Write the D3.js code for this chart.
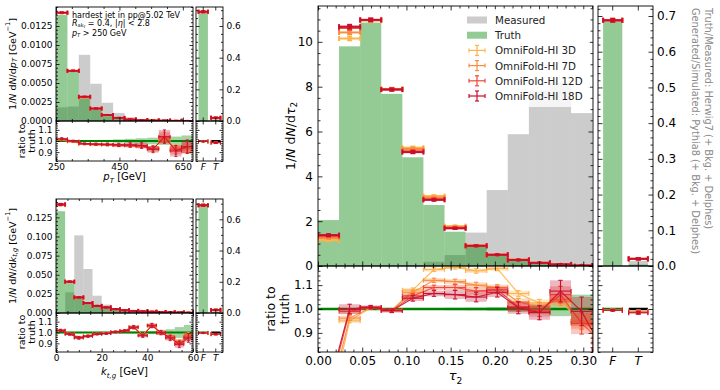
<!DOCTYPE html>
<html><head><meta charset="utf-8">
<script src="https://cdn.jsdelivr.net/npm/d3@7/dist/d3.min.js"></script>
<style>html,body{margin:0;padding:0;background:#fff;}svg{display:block;}</style>
</head><body>
<script>
// ---------------- DATA ----------------
const seriesNames = ["OmniFold-HI 3D","OmniFold-HI 7D","OmniFold-HI 12D","OmniFold-HI 18D"];
const patchNames = ["Measured","Truth"];
const ftCategories = ["F","T"];
const ratioTicks = [0.9,1.0,1.1];
const ratioTickLabels = ["0.9","1.0","1.1"];
const sideNotes = ["Truth/Measured: Herwig7 (+ Bkg. + Delphes)","Generated/Simulated: Pythia8 (+ Bkg. + Delphes)"];

// tau_2 (main panel)
const tauEdges = [0,0.0238,0.0477,0.0715,0.0954,0.1192,0.1431,0.1669,0.1908,0.2146,0.2385,0.2623,0.2862,0.31,0.3338];
const tauTicks = [0,0.05,0.1,0.15,0.2,0.25,0.3];
const tauTickLabels = ["0.00","0.05","0.10","0.15","0.20","0.25","0.30"];
const tauYTicks = [0,2,4,6,8,10];
const tauYTickLabels = ["0","2","4","6","8","10"];
const tauMeasured = [0,0,0,0,0.02,0.19,0.49,1.49,3.39,5.88,7.83,8.18,6.82];
const tauTruth = [2.05,9.8,10.86,7.68,4.85,2.72,1.53,0.86,0.49,0.27,0.13,0.07,0.02];
const tauOmni3D = [1.15,10.15,10.95,7.90,5.28,3.12,1.78,0.92,0.51,0.28,0.14,0.07,0.02];
const tauOmni7D = [1.25,10.42,10.97,7.89,5.22,3.05,1.74,0.91,0.50,0.28,0.14,0.07,0.02];
const tauOmni12D = [1.33,10.62,10.98,7.88,5.12,2.98,1.70,0.90,0.50,0.27,0.14,0.07,0.02];
const tauOmni18D = [1.38,10.68,10.98,7.87,5.08,2.95,1.68,0.90,0.50,0.27,0.14,0.07,0.02];
const tauOmniErr = [0.04,0.08,0.06,0.05,0.05,0.04,0.03,0.02,0.015,0.01,0.008,0.005,0.003];
const tauRatio3D = [0.56,0.95,1.005,0.995,1.08,1.165,1.175,1.16,1.17,1.065,1.025,1.03,0.95,0.90];
const tauRatio7D = [0.61,0.962,1.005,0.995,1.07,1.12,1.115,1.10,1.09,1.03,1.01,1.04,0.95,0.88];
const tauRatio12D = [0.65,0.99,1.006,0.994,1.055,1.09,1.09,1.075,1.08,1.01,0.99,1.06,0.94,0.86];
const tauRatio18D = [0.67,1.0,1.008,0.993,1.045,1.065,1.06,1.05,1.07,1.005,0.985,1.075,0.99,0.83];
const tauRatioErr3D = [0.02,0.008,0.004,0.005,0.008,0.008,0.008,0.01,0.01,0.012,0.015,0.02,0.03,0.04];
const tauRatioErr7D = [0.025,0.01,0.005,0.006,0.009,0.009,0.01,0.012,0.012,0.015,0.018,0.025,0.035,0.05];
const tauRatioErr12D = [0.03,0.012,0.006,0.007,0.01,0.01,0.012,0.015,0.015,0.02,0.022,0.035,0.045,0.06];
const tauRatioErr18D = [0.04,0.02,0.007,0.008,0.012,0.012,0.018,0.02,0.02,0.025,0.03,0.045,0.06,0.08];
const tauTruthErr = [0.004,0.002,0.002,0.002,0.003,0.004,0.005,0.006,0.008,0.012,0.02,0.03,0.06,0.08];

// F/T bins, main panel
const ftMainTicks = [0,0.1,0.2,0.3,0.4,0.5,0.6,0.7];
const ftMainTickLabels = ["0.0","0.1","0.2","0.3","0.4","0.5","0.6","0.7"];
const ftMainTruth = [0.69,0.004];
const ftMainMeasured = [0,0.014];
const ftMainOmni = [0.688,0.02];
const ftMainRatio3D = [0.997,0.99];
const ftMainRatio7D = [0.996,0.988];
const ftMainRatio12D = [0.995,0.986];
const ftMainRatio18D = [0.995,0.984];
const ftRatioErr = [0.003,0.006];

// p_T (top left)
const ptEdges = [250,286,322,358,394,430,466,502,538,574,610,646,682];
const ptTicks = [250,450,650];
const ptTickLabels = ["250","450","650"];
const ptYTicks = [0,0.0025,0.005,0.0075,0.01,0.0125];
const ptYTickLabels = ["0.0000","0.0025","0.0050","0.0075","0.0100","0.0125"];
const ptMeasured = [0.0018,0.0019,0.0087,0.0049,0.0024,0.00106,0.0005,0.00022,0.0001,0.00006,0.00003,0.00002];
const ptTruth = [0.01395,0.0066,0.00317,0.00164,0.00078,0.0004,0.0002,0.0001,0.00006,0.00004,0.00002,0.00001];
const ptOmni3D = [0.0142,0.0066,0.0031,0.0016,0.00076,0.00039,0.00019,0.0001,0.00006,0.00004,0.00002,0.00001];
const ptOmni7D = [0.01422,0.0066,0.00312,0.00161,0.00077,0.0004,0.00019,0.0001,0.00006,0.00004,0.00002,0.00001];
const ptOmni12D = [0.01424,0.0066,0.00315,0.00163,0.00078,0.00041,0.0002,0.0001,0.00006,0.00004,0.00002,0.00001];
const ptOmni18D = [0.01426,0.0066,0.0032,0.00165,0.0008,0.00042,0.0002,0.0001,0.00006,0.00004,0.00002,0.00001];
const ptOmniErr = [0.00005,0.00004,0.00003,0.00002,0.00001,0.00001,0.00001,0.00001,0.00001,0.00001,0.00001,0.00001];
const ptRatio3D = [1.01,0.99,0.97,0.965,0.962,0.958,0.955,0.95,0.94,1.01,0.94,0.92];
const ptRatio7D = [1.01,0.995,0.972,0.968,0.965,0.96,0.958,0.952,0.935,1.02,0.93,0.93];
const ptRatio12D = [1.015,0.995,0.975,0.97,0.968,0.962,0.96,0.955,0.93,1.03,0.92,0.94];
const ptRatio18D = [1.02,1.0,0.975,0.972,0.97,0.965,0.965,0.96,0.925,1.04,0.91,0.95];
const ptRatioErr3D = [0.005,0.004,0.004,0.005,0.006,0.008,0.01,0.012,0.015,0.03,0.025,0.03];
const ptRatioErr7D = [0.006,0.005,0.005,0.006,0.007,0.01,0.012,0.015,0.02,0.04,0.03,0.04];
const ptRatioErr12D = [0.008,0.006,0.006,0.008,0.01,0.012,0.016,0.02,0.025,0.05,0.04,0.05];
const ptRatioErr18D = [0.01,0.008,0.008,0.01,0.012,0.015,0.02,0.025,0.03,0.06,0.05,0.06];
const ptTruthErr = [0.004,0.005,0.006,0.008,0.01,0.015,0.02,0.025,0.03,0.035,0.04,0.05];
const ftPtTicks = [0,0.2,0.4,0.6];
const ftPtTickLabels = ["0.0","0.2","0.4","0.6"];
const ftPtTruth = [0.69,0.004];
const ftPtMeasured = [0,0.012];
const ftPtOmni = [0.69,0.02];
const ftPtRatio = [0.996,0.985];

// k_t,g (bottom left)
const ktEdges = [0,4,8,12,16,20,24,28,32,36,40,44,48,52,56,60];
const ktTicks = [0,20,40,60];
const ktTickLabels = ["0","20","40","60"];
const ktYTicks = [0,0.025,0.05,0.075,0.1,0.125];
const ktYTickLabels = ["0.000","0.025","0.050","0.075","0.100","0.125"];
const ktMeasured = [0,0.027,0.1015,0.0575,0.0226,0.011,0.006,0.004,0.004,0.002,0.0015,0.001,0.0006,0.0004,0.0002];
const ktTruth = [0.133,0.04,0.02,0.013,0.009,0.007,0.005,0.0035,0.0025,0.002,0.0015,0.001,0.0008,0.0005,0.0003];
const ktOmni3D = [0.141,0.0405,0.0202,0.0129,0.0092,0.0072,0.005,0.0036,0.0027,0.002,0.0016,0.001,0.0008,0.0005,0.0003];
const ktOmni7D = [0.1415,0.0407,0.0203,0.0129,0.0092,0.0072,0.005,0.0036,0.0027,0.002,0.0016,0.001,0.0008,0.0005,0.0003];
const ktOmni12D = [0.1418,0.0408,0.0204,0.013,0.0093,0.0073,0.005,0.0036,0.0027,0.002,0.0016,0.001,0.0008,0.0005,0.0003];
const ktOmni18D = [0.142,0.041,0.0204,0.013,0.0093,0.0073,0.005,0.0036,0.0027,0.002,0.0016,0.001,0.0008,0.0005,0.0003];
const ktOmniErr = [0.0008,0.0004,0.0003,0.0002,0.0002,0.0001,0.0001,0.0001,0.0001,0.0001,0.0001,0.0001,0.0001,0.0001,0.0001];
const ktRatio3D = [1.02,0.99,0.96,0.972,0.99,0.995,1.01,1.02,1.055,0.98,1.07,1.005,0.965,0.92,0.98];
const ktRatio7D = [1.02,0.987,0.955,0.97,0.987,0.993,1.008,1.018,1.05,0.978,1.065,1.0,0.96,0.91,0.97];
const ktRatio12D = [1.02,0.985,0.952,0.967,0.985,0.992,1.005,1.015,1.045,0.975,1.06,0.995,0.955,0.9,0.96];
const ktRatio18D = [1.02,0.985,0.95,0.965,0.985,0.99,1.005,1.015,1.05,0.97,1.065,1.0,0.95,0.89,0.95];
const ktRatioErr3D = [0.005,0.005,0.006,0.005,0.004,0.004,0.004,0.005,0.008,0.008,0.01,0.01,0.012,0.015,0.02];
const ktRatioErr7D = [0.006,0.006,0.008,0.006,0.005,0.005,0.005,0.006,0.01,0.01,0.013,0.013,0.016,0.02,0.026];
const ktRatioErr12D = [0.008,0.008,0.01,0.008,0.006,0.006,0.006,0.008,0.012,0.012,0.016,0.016,0.02,0.025,0.033];
const ktRatioErr18D = [0.01,0.01,0.012,0.01,0.008,0.008,0.008,0.01,0.015,0.015,0.02,0.02,0.025,0.03,0.04];
const ktTruthErr = [0.005,0.006,0.006,0.005,0.005,0.005,0.006,0.008,0.01,0.012,0.015,0.02,0.03,0.05,0.07];
const ftKtTruth = [0.69,0.004];
const ftKtMeasured = [0,0.012];
const ftKtOmni = [0.69,0.02];
const ftKtRatio = [0.996,0.985];

// ---------------- STYLE / HELPERS ----------------
const FONT = '"DejaVu Sans", sans-serif';
const seriesColors = ["#fdb44b","#f98c3f","#ee4836","#c8102e"];
const GRAY = "#999999", GREEN = "#008000";
const ratioDomain = [0.82, 1.18];

const svg = d3.select("body").append("svg").attr("width",720).attr("height",390)
  .style("font-family",FONT);
const defs = svg.append("defs");
let cid = 0;
function clipped(x,y,w,h){
  const id = "clip"+(cid++);
  defs.append("clipPath").attr("id",id).append("rect").attr("x",x).attr("y",y).attr("width",w).attr("height",h);
  return svg.append("g").attr("clip-path",`url(#${id})`);
}
function minorTicks(lo,hi,step,maj){
  return d3.range(lo,hi+step*0.01,step).filter(m=>!maj.some(t=>Math.abs(t-m)<step*0.01));
}
function rich(sel, parts, fs){
  let cur=0;
  parts.forEach(p=>{
    const sh=(p.sh||0)*fs;
    const ts=sel.append("tspan").text(p.t);
    if(Math.abs(sh-cur)>1e-9) ts.attr("dy",sh-cur);
    cur=sh;
    if(p.i) ts.attr("font-style","italic");
    if(p.sc) ts.attr("font-size",fs*p.sc);
  });
}
function axes(P){
  const g=svg.append("g");
  const none=()=>"";
  const fmtFrom=(labels,ticks)=>d=>{const i=ticks.indexOf(d);return i>=0?labels[i]:"";};
  function put(axis,tx,ty,italic){
    const a=g.append("g").attr("transform",`translate(${tx},${ty})`).call(axis);
    a.select(".domain").remove();
    a.attr("font-family",FONT).attr("font-size",P.fs);
    a.selectAll(".tick line").attr("stroke","#000").attr("stroke-width",0.8);
    a.selectAll(".tick text").attr("fill","#000");
    if(italic) a.selectAll(".tick text").attr("font-style","italic");
  }
  const xfmt=P.xLabels?fmtFrom(P.xLabels,P.xLabelTicks||P.xMaj):none;
  put(d3.axisBottom(P.xs).tickValues(P.xMaj).tickSize(-P.tl).tickPadding(P.xPad||3).tickFormat(xfmt),0,P.y1,P.xItalic);
  put(d3.axisTop(P.xs).tickValues(P.xMaj).tickSize(-P.tl).tickFormat(none),0,P.y0);
  if(P.xMin){
    put(d3.axisBottom(P.xs).tickValues(P.xMin).tickSize(-P.tm).tickFormat(none),0,P.y1);
    put(d3.axisTop(P.xs).tickValues(P.xMin).tickSize(-P.tm).tickFormat(none),0,P.y0);
  }
  const yfmt=P.yLabels?fmtFrom(P.yLabels,P.yMaj):none;
  put(d3.axisLeft(P.ys).tickValues(P.yMaj).tickSize(-P.tl).tickPadding(P.yPad||3).tickFormat(P.ySide==="left"?yfmt:none),P.x0,0);
  put(d3.axisRight(P.ys).tickValues(P.yMaj).tickSize(-P.tl).tickPadding(P.yPad||3).tickFormat(P.ySide==="right"?yfmt:none),P.x1,0);
  if(P.yMin){
    put(d3.axisLeft(P.ys).tickValues(P.yMin).tickSize(-P.tm).tickFormat(none),P.x0,0);
    put(d3.axisRight(P.ys).tickValues(P.yMin).tickSize(-P.tm).tickFormat(none),P.x1,0);
  }
  g.append("rect").attr("x",P.x0).attr("y",P.y0).attr("width",P.x1-P.x0).attr("height",P.y1-P.y0)
    .attr("fill","none").attr("stroke","#000").attr("stroke-width",0.9);
}
function errbars(g, pts, xs, ys, color, o){
  const gg=g.append("g").attr("stroke",color).attr("stroke-width",o.lw).attr("fill","none");
  gg.selectAll("line.h").data(pts).join("line").attr("class","h")
    .attr("x1",d=>xs(d.a)).attr("x2",d=>xs(d.b)).attr("y1",d=>ys(d.v)).attr("y2",d=>ys(d.v));
  gg.selectAll("line.v").data(pts).join("line").attr("class","v")
    .attr("x1",d=>xs(d.c)).attr("x2",d=>xs(d.c)).attr("y1",d=>ys(d.v-d.e)).attr("y2",d=>ys(d.v+d.e));
  ["a","b"].forEach(k=>{
    gg.selectAll("line.c"+k).data(pts).join("line").attr("class","c"+k)
      .attr("x1",d=>xs(d[k])).attr("x2",d=>xs(d[k])).attr("y1",d=>ys(d.v)-o.cap).attr("y2",d=>ys(d.v)+o.cap);
  });
  [1,-1].forEach((s,j)=>{
    gg.selectAll("line.y"+j).data(pts).join("line").attr("class","y"+j)
      .attr("x1",d=>xs(d.c)-o.cap).attr("x2",d=>xs(d.c)+o.cap).attr("y1",d=>ys(d.v+s*d.e)).attr("y2",d=>ys(d.v+s*d.e));
  });
  if(o.r) g.append("g").selectAll("circle").data(pts).join("circle")
    .attr("cx",d=>xs(d.c)).attr("cy",d=>ys(d.v)).attr("r",o.r).attr("fill",color);
}
function binsOf(edges, vals, errs){
  return vals.map((v,i)=>({a:edges[i],b:edges[i+1],c:(edges[i]+edges[i+1])/2,v,e:errs?errs[i]:0}));
}
function histPanel(P){
  const xs=d3.scaleLinear().domain(P.xDomain).range([P.x0,P.x1]);
  const ys=d3.scaleLinear().domain(P.yDomain).range([P.y1,P.y0]);
  const g=clipped(P.x0,P.y0,P.x1-P.x0,P.y1-P.y0);
  const bar=(vals,color,op)=>g.append("g").selectAll("rect").data(binsOf(P.edges,vals)).join("rect")
    .attr("x",d=>xs(d.a)).attr("width",d=>xs(d.b)-xs(d.a)).attr("y",d=>ys(d.v)).attr("height",d=>ys(0)-ys(d.v))
    .attr("fill",color).attr("fill-opacity",op);
  bar(P.measured,GRAY,0.5);
  bar(P.truth,GREEN,0.42);
  P.omni.forEach((vals,s)=>errbars(g,binsOf(P.edges,vals,P.omniErr),xs,ys,seriesColors[s],{lw:P.lw,cap:P.cap,r:P.r}));
  axes(Object.assign({xs,ys,x0:P.x0,x1:P.x1,y0:P.y0,y1:P.y1},P.ax));
  return {xs,ys,g};
}
function ratioPanel(P){
  const xs=d3.scaleLinear().domain(P.xDomain).range([P.x0,P.x1]);
  const ys=d3.scaleLinear().domain(ratioDomain).range([P.y1,P.y0]);
  const g=clipped(P.x0,P.y0,P.x1-P.x0,P.y1-P.y0);
  const boxes=(pts,color,op)=>g.append("g").selectAll("rect").data(pts).join("rect")
    .attr("x",d=>xs(d.a)).attr("width",d=>xs(d.b)-xs(d.a)).attr("y",d=>ys(d.v+d.e)).attr("height",d=>ys(d.v-d.e)-ys(d.v+d.e))
    .attr("fill",color).attr("fill-opacity",op);
  boxes(binsOf(P.edges,P.truthErr.map(()=>1),P.truthErr),GREEN,0.35);
  g.append("line").attr("x1",P.x0).attr("x2",P.x1).attr("y1",ys(1)).attr("y2",ys(1))
    .attr("stroke",GREEN).attr("stroke-width",P.glw);
  P.ratios.forEach((vals,s)=>{
    const pts=binsOf(P.edges,vals,P.errs[s]);
    boxes(pts,seriesColors[s],0.3);
    g.append("path").datum(pts).attr("d",d3.line().x(d=>xs(d.c)).y(d=>ys(d.v)))
      .attr("fill","none").attr("stroke",seriesColors[s]).attr("stroke-width",P.llw).attr("stroke-opacity",0.9);
    errbars(g,pts,xs,ys,seriesColors[s],{lw:P.elw,cap:P.cap,r:0});
  });
  axes(Object.assign({xs,ys,x0:P.x0,x1:P.x1,y0:P.y0,y1:P.y1},P.ax));
}
function ftPanel(P){
  const xb=d3.scaleBand().domain(ftCategories).range([P.x0,P.x1]).paddingInner(0.25).paddingOuter(0.2);
  const ys=d3.scaleLinear().domain(P.yDomain).range([P.yU1,P.yU0]);
  const yr=d3.scaleLinear().domain(ratioDomain).range([P.yR1,P.yU1]);
  const bw=xb.bandwidth();
  const pts=(vals,errs)=>ftCategories.map((k,i)=>({a:xb(k),b:xb(k)+bw,c:xb(k)+bw/2,v:vals[i],e:errs?errs[i]:0}));
  const id=v=>v;
  const g=clipped(P.x0,P.yU0,P.x1-P.x0,P.yU1-P.yU0);
  const bar=(vals,color,op)=>g.append("g").selectAll("rect").data(pts(vals)).join("rect")
    .attr("x",d=>d.a).attr("width",bw).attr("y",d=>ys(d.v)).attr("height",d=>ys(0)-ys(d.v))
    .attr("fill",color).attr("fill-opacity",op);
  bar(P.measured,GRAY,0.5);
  bar(P.truth,GREEN,0.42);
  P.omni.forEach((vals,s)=>errbars(g,pts(vals,[0.004,0.002]),id,ys,seriesColors[s],{lw:P.lw,cap:P.cap,r:0}));
  axes(Object.assign({xs:xb,ys,x0:P.x0,x1:P.x1,y0:P.yU0,y1:P.yU1,xMaj:ftCategories},P.axU));
  const gr=clipped(P.x0,P.yU1,P.x1-P.x0,P.yR1-P.yU1);
  const truthLine=pts([1,1]);
  const lineColors=[GREEN,"#000"];
  gr.selectAll("line.t").data(truthLine).join("line").attr("class","t")
    .attr("x1",d=>d.a).attr("x2",d=>d.b).attr("y1",d=>yr(d.v)).attr("y2",d=>yr(d.v))
    .attr("stroke",(d,i)=>lineColors[i]).attr("stroke-width",P.glw);
  P.ratios.forEach((vals,s)=>errbars(gr,pts(vals,ftRatioErr),id,yr,seriesColors[s],{lw:P.elw,cap:P.cap,r:s===3?P.r:0}));
  axes(Object.assign({xs:xb,ys:yr,x0:P.x0,x1:P.x1,y0:P.yU1,y1:P.yR1,xMaj:ftCategories,xLabels:ftCategories,xItalic:true,
    yMaj:ratioTicks,yMin:minorTicks(0.82,1.18,0.02,ratioTicks)},P.axR));
}
function vtext(x,y,parts,fs,rot){
  const t=svg.append("text").attr("transform",`translate(${x},${y}) rotate(${rot})`)
    .attr("text-anchor",rot===90?"start":"middle").attr("dominant-baseline","central")
    .attr("font-size",fs).attr("fill","#000");
  rich(t,parts,fs);
  return t;
}
function htext(x,y,parts,fs,anchor){
  const t=svg.append("text").attr("x",x).attr("y",y).attr("font-size",fs).attr("text-anchor",anchor||"middle").attr("fill","#000");
  rich(t,parts,fs);
  return t;
}

// ---------------- MAIN (tau_2) ----------------
const M={x0:318,x1:593,yU0:6,yU1:266,yR1:352};
const tauOmni=[tauOmni3D,tauOmni7D,tauOmni12D,tauOmni18D];
const tauRatios=[tauRatio3D,tauRatio7D,tauRatio12D,tauRatio18D];
const tauRatioErrs=[tauRatioErr3D,tauRatioErr7D,tauRatioErr12D,tauRatioErr18D];
histPanel({x0:M.x0,x1:M.x1,y0:M.yU0,y1:M.yU1,xDomain:[0,0.311],yDomain:[0,11.6],edges:tauEdges,
  measured:tauMeasured,truth:tauTruth,omni:tauOmni,omniErr:tauOmniErr,lw:2,cap:2.5,r:1.7,
  ax:{xMaj:tauTicks,xMin:minorTicks(0,0.31,0.01,tauTicks),yMaj:tauYTicks,yMin:minorTicks(0,11.5,0.5,tauYTicks),
      yLabels:tauYTickLabels,ySide:"left",fs:12,tl:4.5,tm:2.5,yPad:5}});
ratioPanel({x0:M.x0,x1:M.x1,y0:M.yU1,y1:M.yR1,xDomain:[0,0.311],edges:tauEdges,truthErr:tauTruthErr,
  ratios:tauRatios,errs:tauRatioErrs,glw:2.5,llw:1.2,elw:1.1,cap:2.2,
  ax:{xMaj:tauTicks,xMin:minorTicks(0,0.31,0.01,tauTicks),xLabels:tauTickLabels,xPad:4,
      yMaj:ratioTicks,yMin:minorTicks(0.82,1.18,0.02,ratioTicks),yLabels:ratioTickLabels,ySide:"left",fs:12,tl:4.5,tm:2.5,yPad:5}});

// legend (semi-transparent background + entries)
const legG=svg.append("g");
legG.append("rect").attr("x",459).attr("y",9).attr("width",131).attr("height",98).attr("rx",3)
  .attr("fill","#fff").attr("fill-opacity",0.8);
const legY=d3.scalePoint().domain(patchNames.concat(seriesNames)).range([20,96]);
[[GRAY,0.5],[GREEN,0.42]].forEach((c,i)=>{
  legG.append("rect").attr("x",467).attr("y",legY(patchNames[i])-3.5).attr("width",20).attr("height",7)
    .attr("fill",c[0]).attr("fill-opacity",c[1]);
});
seriesNames.forEach((n,s)=>{
  const y0=legY(n);
  errbars(legG,[{a:469,b:485,c:477,v:y0,e:5}],v=>v,v=>v,seriesColors[s],{lw:1.2,cap:2,r:0});
});
patchNames.concat(seriesNames).forEach(n=>{
  legG.append("text").attr("x",495).attr("y",legY(n)).attr("dominant-baseline","central")
    .attr("font-size",10.3).attr("fill","#222").text(n);
});

// main F/T
ftPanel({x0:598,x1:653,yU0:M.yU0,yU1:M.yU1,yR1:M.yR1,yDomain:[0,0.728],truth:ftMainTruth,measured:ftMainMeasured,
  omni:[ftMainOmni,ftMainOmni,ftMainOmni,ftMainOmni],ratios:[ftMainRatio3D,ftMainRatio7D,ftMainRatio12D,ftMainRatio18D],
  lw:2,cap:2.5,glw:2.5,elw:1.1,r:1.8,
  axU:{yMaj:ftMainTicks,yMin:minorTicks(0,0.72,0.02,ftMainTicks),yLabels:ftMainTickLabels,ySide:"right",fs:12,tl:4.5,tm:2.5,yPad:4},
  axR:{fs:12,tl:4.5,tm:2.5,xPad:4}});

// main labels
vtext(290,136,[{t:"1/"},{t:"N",i:1},{t:" d"},{t:"N",i:1},{t:"/d"},{t:"τ",i:1},{t:"2",sh:0.3,sc:0.7}],12.5,-90);
vtext(270,309,[{t:"ratio to"}],12.5,-90);
vtext(284,309,[{t:"truth"}],12.5,-90);
htext(455.5,380,[{t:"τ",i:1},{t:"2",sh:0.3,sc:0.7}],13);

// side notes
svg.append("text").attr("transform","translate(708,8) rotate(90)").attr("dominant-baseline","central")
  .attr("font-size",9.8).attr("fill","#8a8a8a").text(sideNotes[0]);
svg.append("text").attr("transform","translate(695,8) rotate(90)").attr("dominant-baseline","central")
  .attr("font-size",9.8).attr("fill","#8a8a8a").text(sideNotes[1]);

// ---------------- TOP LEFT (p_T) ----------------
const L1={x0:56,x1:193,yU0:7,yU1:121,yR1:161};
histPanel({x0:L1.x0,x1:L1.x1,y0:L1.yU0,y1:L1.yU1,xDomain:[250,682],yDomain:[0,0.015],edges:ptEdges,
  measured:ptMeasured,truth:ptTruth,omni:[ptOmni3D,ptOmni7D,ptOmni12D,ptOmni18D],omniErr:ptOmniErr,lw:1.8,cap:2,r:0,
  ax:{xMaj:ptTicks,xMin:minorTicks(250,682,50,ptTicks),yMaj:ptYTicks,yMin:minorTicks(0,0.015,0.0005,ptYTicks),
      yLabels:ptYTickLabels,ySide:"left",fs:9,tl:3.5,tm:2,yPad:3.5}});
ratioPanel({x0:L1.x0,x1:L1.x1,y0:L1.yU1,y1:L1.yR1,xDomain:[250,682],edges:ptEdges,truthErr:ptTruthErr,
  ratios:[ptRatio3D,ptRatio7D,ptRatio12D,ptRatio18D],errs:[ptRatioErr3D,ptRatioErr7D,ptRatioErr12D,ptRatioErr18D],
  glw:2,llw:1,elw:0.9,cap:1.5,
  ax:{xMaj:ptTicks,xMin:minorTicks(250,682,50,ptTicks),xLabels:ptTickLabels,xPad:3,
      yMaj:ratioTicks,yMin:minorTicks(0.82,1.18,0.02,ratioTicks),yLabels:ratioTickLabels,ySide:"left",fs:9,tl:3.5,tm:2,yPad:3.5}});
ftPanel({x0:196,x1:223,yU0:L1.yU0,yU1:L1.yU1,yR1:L1.yR1,yDomain:[0,0.72],truth:ftPtTruth,measured:ftPtMeasured,
  omni:[ftPtOmni,ftPtOmni,ftPtOmni,ftPtOmni],ratios:[ftPtRatio,ftPtRatio,ftPtRatio,ftPtRatio],
  lw:1.8,cap:2,glw:2,elw:0.9,r:1.2,
  axU:{yMaj:ftPtTicks,yMin:minorTicks(0,0.7,0.05,ftPtTicks),yLabels:ftPtTickLabels,ySide:"right",fs:9,tl:3.5,tm:2,yPad:3.5},
  axR:{fs:9,tl:3.5,tm:2,xPad:3}});
vtext(12,64,[{t:"1/"},{t:"N",i:1},{t:" d"},{t:"N",i:1},{t:"/d"},{t:"p",i:1},{t:"T",i:1,sh:0.3,sc:0.7},{t:" [GeV"},{t:"−1",sh:-0.4,sc:0.7},{t:"]"}],9.5,-90);
vtext(21,141,[{t:"ratio to"}],9.5,-90);
vtext(31,141,[{t:"truth"}],9.5,-90);
htext(124.5,180,[{t:"p",i:1},{t:"T",i:1,sh:0.3,sc:0.7},{t:" [GeV]"}],10);
htext(72,17.5,[{t:"hardest jet in pp@5.02 TeV"}],8,"start");
htext(72,26,[{t:"R",i:1},{t:"ak",sh:0.18,sc:0.65},{t:"t",i:1,sh:0.3,sc:0.5},{t:" = 0.4, |"},{t:"η",i:1},{t:"| < 2.8"}],8,"start");
htext(72,35.5,[{t:"p",i:1},{t:"T",i:1,sh:0.2,sc:0.65},{t:" > 250 GeV"}],8,"start");

// ---------------- BOTTOM LEFT (k_t,g) ----------------
const L2={x0:56,x1:193,yU0:199,yU1:313,yR1:352};
histPanel({x0:L2.x0,x1:L2.x1,y0:L2.yU0,y1:L2.yU1,xDomain:[0,60],yDomain:[0,0.149],edges:ktEdges,
  measured:ktMeasured,truth:ktTruth,omni:[ktOmni3D,ktOmni7D,ktOmni12D,ktOmni18D],omniErr:ktOmniErr,lw:1.8,cap:2,r:0,
  ax:{xMaj:ktTicks,xMin:minorTicks(0,60,5,ktTicks),yMaj:ktYTicks,yMin:minorTicks(0,0.145,0.005,ktYTicks),
      yLabels:ktYTickLabels,ySide:"left",fs:9,tl:3.5,tm:2,yPad:3.5}});
ratioPanel({x0:L2.x0,x1:L2.x1,y0:L2.yU1,y1:L2.yR1,xDomain:[0,60],edges:ktEdges,truthErr:ktTruthErr,
  ratios:[ktRatio3D,ktRatio7D,ktRatio12D,ktRatio18D],errs:[ktRatioErr3D,ktRatioErr7D,ktRatioErr12D,ktRatioErr18D],
  glw:2,llw:1,elw:0.9,cap:1.5,
  ax:{xMaj:ktTicks,xMin:minorTicks(0,60,5,ktTicks),xLabels:ktTickLabels,xPad:3,
      yMaj:ratioTicks,yMin:minorTicks(0.82,1.18,0.02,ratioTicks),yLabels:ratioTickLabels,ySide:"left",fs:9,tl:3.5,tm:2,yPad:3.5}});
ftPanel({x0:196,x1:223,yU0:L2.yU0,yU1:L2.yU1,yR1:L2.yR1,yDomain:[0,0.73],truth:ftKtTruth,measured:ftKtMeasured,
  omni:[ftKtOmni,ftKtOmni,ftKtOmni,ftKtOmni],ratios:[ftKtRatio,ftKtRatio,ftKtRatio,ftKtRatio],
  lw:1.8,cap:2,glw:2,elw:0.9,r:1.2,
  axU:{yMaj:ftPtTicks,yMin:minorTicks(0,0.7,0.05,ftPtTicks),yLabels:ftPtTickLabels,ySide:"right",fs:9,tl:3.5,tm:2,yPad:3.5},
  axR:{fs:9,tl:3.5,tm:2,xPad:3}});
vtext(12,256,[{t:"1/"},{t:"N",i:1},{t:" d"},{t:"N",i:1},{t:"/d"},{t:"k",i:1},{t:"t,g",i:1,sh:0.3,sc:0.7},{t:" [GeV"},{t:"−1",sh:-0.4,sc:0.7},{t:"]"}],9.5,-90);
vtext(21,332,[{t:"ratio to"}],9.5,-90);
vtext(31,332,[{t:"truth"}],9.5,-90);
htext(124.5,375,[{t:"k",i:1},{t:"t,g",i:1,sh:0.3,sc:0.7},{t:" [GeV]"}],10);
</script>
</body></html>
